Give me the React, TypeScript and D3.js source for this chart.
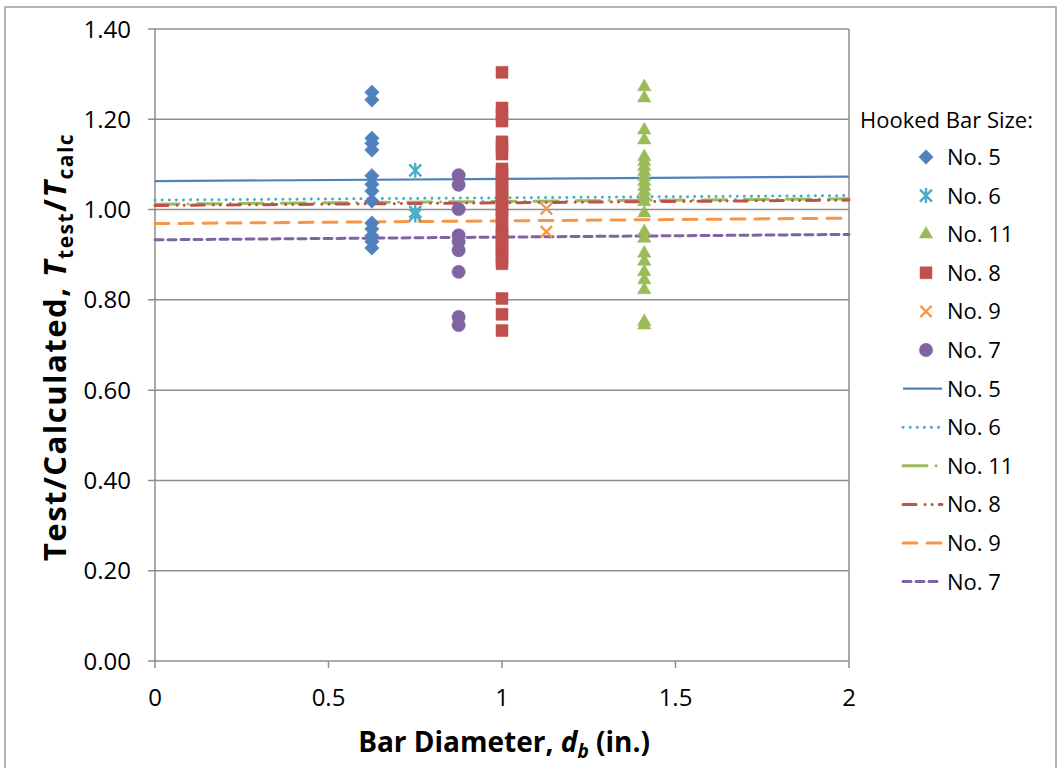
import React from "react";
import * as d3 from "d3";

// bar diameters (in.) for each hooked bar size
const sizes = ["No. 5", "No. 6", "No. 11", "No. 8", "No. 9", "No. 7"];
const diameters = [0.625, 0.75, 1.41, 1.0, 1.128, 0.875];

// Test/Calculated ratios
const no5 = [1.26, 1.243, 1.158, 1.147, 1.132, 1.075, 1.056, 1.041, 1.019, 0.97, 0.957, 0.942, 0.929, 0.915];
const no6 = [1.087, 0.995, 0.988];
const no11 = [1.272, 1.247, 1.176, 1.154, 1.117, 1.106, 1.095, 1.084, 1.073, 1.062, 1.051, 1.04, 1.029, 1.017, 0.992, 0.951, 0.936, 0.903, 0.885, 0.862, 0.844, 0.822, 0.752, 0.744];
const no8 = [1.304, 1.225, 1.21, 1.196, 1.15, 1.137, 1.123, 1.09, 1.08, 1.07, 1.06, 1.05, 1.04, 1.03, 1.02, 1.01, 1.0, 0.99, 0.98, 0.96, 0.95, 0.94, 0.93, 0.92, 0.91, 0.9, 0.89, 0.88, 0.803, 0.768, 0.732];
const no9 = [1.002, 0.951];
const no7 = [1.076, 1.055, 1.001, 0.943, 0.929, 0.91, 0.862, 0.762, 0.744];
const seriesValues = [no5, no6, no11, no8, no9, no7];

// linear trend lines: value at x = 0 and x = 2
const trendX = [0, 2];
const trend5 = [1.063, 1.073];
const trend6 = [1.021, 1.031];
const trend11 = [1.012, 1.024];
const trend8 = [1.009, 1.021];
const trend9 = [0.969, 0.981];
const trend7 = [0.933, 0.945];
const trends = [trend5, trend6, trend11, trend8, trend9, trend7];

const yTicks = [0, 0.2, 0.4, 0.6, 0.8, 1.0, 1.2, 1.4];
const xTicks = [0, 0.5, 1, 1.5, 2];

const colors = ["#4F81BD", "#4BACC6", "#9BBB59", "#C0504D", "#F79646", "#8064A2"];
const dashes = ["none", "0.1,7", "24,9,0.1,9", "13,9,0.1,7,0.1,7", "14,10", "8,5"];
const lineWidths = [2.2, 3, 3, 3, 3, 3];

const FONT = "'Open Sans', Lato, sans-serif";

function markerPath(i: number): string {
  if (i === 0) return d3.symbol(d3.symbolDiamond2, 135)() as string;
  if (i === 2) return d3.symbol(d3.symbolTriangle, 78)() as string;
  if (i === 3) return d3.symbol(d3.symbolSquare, 144)() as string;
  if (i === 5) return d3.symbol(d3.symbolCircle, 140)() as string;
  if (i === 4) return d3.symbol(d3.symbolTimes, 85)() as string;
  // asterisk: vertical stroke plus an X
  const p = d3.path();
  const r = 7.5, d = 6;
  p.moveTo(0, -r); p.lineTo(0, r);
  p.moveTo(-d, -d); p.lineTo(d, d);
  p.moveTo(-d, d); p.lineTo(d, -d);
  return p.toString();
}

const isStroke = (i: number) => i === 1 || i === 4;

function Marker({ i, x, y }: { i: number; x: number; y: number }) {
  const stroke = isStroke(i);
  return (
    <path
      d={markerPath(i)}
      transform={`translate(${x},${y})`}
      fill={stroke ? "none" : colors[i]}
      stroke={colors[i]}
      strokeWidth={stroke ? 2.4 : 0.5}
    />
  );
}

export default function App() {
  const x = d3.scaleLinear().domain([0, 2]).range([155, 849]);
  const y = d3.scaleLinear().domain([0, 1.4]).range([661, 29]);
  const line = d3
    .line<[number, number]>()
    .x((d) => x(d[0]))
    .y((d) => y(d[1]));

  const legendY = d3.scaleLinear().domain([0, 1]).range([157, 195.6]);

  return (
    <div style={{ position: "absolute", left: 0, top: 0 }}>
      <svg width={1063} height={768} style={{ display: "block", background: "#fff" }}>
        {/* outer frame */}
        <rect x={5} y={7} width={1051} height={770} fill="none" stroke="#8c8c8c" strokeWidth={1.3} />

        {/* gridlines + y ticks */}
        {yTicks.map((t) => (
          <g key={"y" + t}>
            <line x1={148} x2={849} y1={y(t)} y2={y(t)} stroke="#8e8e8e" strokeWidth={1.5} />
            <text x={131} y={y(t)} dy="0.36em" textAnchor="end" fontFamily={FONT} fontSize={24} fill="#000">
              {t.toFixed(2)}
            </text>
          </g>
        ))}
        {/* axes and plot border */}
        <line x1={x(0)} x2={x(0)} y1={y(1.4)} y2={y(0)} stroke="#8e8e8e" strokeWidth={1.5} />
        <line x1={x(2)} x2={x(2)} y1={y(1.4)} y2={y(0)} stroke="#8e8e8e" strokeWidth={1.5} />
        {xTicks.map((t) => (
          <g key={"x" + t}>
            <line x1={x(t)} x2={x(t)} y1={y(0)} y2={y(0) + 7} stroke="#8e8e8e" strokeWidth={1.5} />
            <text x={x(t)} y={697} dy="0.36em" textAnchor="middle" fontFamily={FONT} fontSize={24} fill="#000">
              {String(t)}
            </text>
          </g>
        ))}

        {/* trend lines */}
        {trends.map((tr, i) => (
          <path
            key={"t" + i}
            d={line(trendX.map((v, k) => [v, tr[k]] as [number, number])) as string}
            fill="none"
            stroke={colors[i]}
            strokeWidth={lineWidths[i]}
            strokeDasharray={dashes[i]}
            strokeLinecap={dashes[i] === "none" ? "butt" : "round"}
          />
        ))}

        {/* data points */}
        {seriesValues.map((vals, i) =>
          vals.map((v, k) => <Marker key={`p${i}-${k}`} i={i} x={x(diameters[i])} y={y(v)} />)
        )}

        {/* y axis title */}
        <text
          transform={`translate(66,${(y(0) + y(1.4)) / 2 + 2}) rotate(-90)`}
          textAnchor="middle"
          fontFamily={FONT}
          fontWeight="bold"
          fontSize={31}
          letterSpacing={1.5}
          fill="#000"
        >
          Test/Calculated,{" "}
          <tspan fontStyle="italic">T</tspan>
          <tspan fontSize={21} dy={7}>test</tspan>
          <tspan dy={-7}>/</tspan>
          <tspan fontStyle="italic">T</tspan>
          <tspan fontSize={21} dy={7}>calc</tspan>
        </text>

        {/* x axis title */}
        <text x={504} y={752} textAnchor="middle" fontFamily={FONT} fontWeight="bold" fontSize={28} fill="#000">
          Bar Diameter, <tspan fontStyle="italic">d</tspan>
          <tspan fontStyle="italic" fontSize={19} dy={6}>b</tspan>
          <tspan dy={-6}> (in.)</tspan>
        </text>

        {/* legend */}
        <text x={860} y={120} dy="0.36em" fontFamily={FONT} fontSize={22} fill="#000">
          Hooked Bar Size:
        </text>
        {sizes.map((s, i) => (
          <g key={"lm" + i}>
            <Marker i={i} x={926} y={legendY(i)} />
            <text x={947} y={legendY(i)} dy="0.36em" fontFamily={FONT} fontSize={22} fill="#000">
              {s}
            </text>
          </g>
        ))}
        {sizes.map((s, i) => (
          <g key={"ll" + i}>
            <line
              x1={903}
              x2={942}
              y1={legendY(i + 6)}
              y2={legendY(i + 6)}
              stroke={colors[i]}
              strokeWidth={lineWidths[i]}
              strokeDasharray={dashes[i]}
              strokeLinecap={dashes[i] === "none" ? "butt" : "round"}
            />
            <text x={947} y={legendY(i + 6)} dy="0.36em" fontFamily={FONT} fontSize={22} fill="#000">
              {s}
            </text>
          </g>
        ))}
      </svg>
    </div>
  );
}
